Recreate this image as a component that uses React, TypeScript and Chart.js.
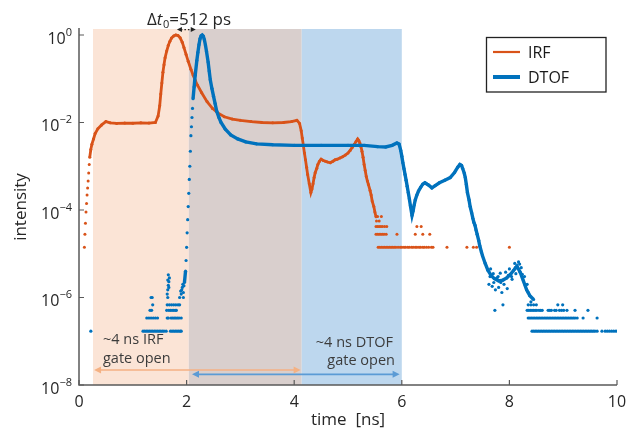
import React, { useEffect, useRef } from 'react';
import { Chart, registerables } from 'chart.js';

Chart.register(...registerables);

const FONT = '"Open Sans", "DejaVu Sans", sans-serif';
const ORANGE = '#D95319';
const BLUE = '#0072BD';

// ---- axes ----
const xTicks = [0, 2, 4, 6, 8, 10];
const yTickValues = [1, 1e-2, 1e-4, 1e-6, 1e-8];
const yTickExponents = ['0', '\u22122', '\u22124', '\u22126', '\u22128'];
const xRange = [0, 10];
const yRange = [1e-8, 1.37];

// ---- gates / annotations (data units) ----
const irfGate = [0.26, 4.14];
const dtofGate = [2.04, 6.0];
const irfArrow = [0.28, 4.12, 2.2e-8];
const dtofArrow = [2.1, 5.96, 1.75e-8];
const deltaArrow = [1.82, 2.17, 1.33];
const seriesNames = ['IRF', 'DTOF'];

// ---- IRF main curve ----
const irfX = [0.11, 0.12, 0.13, 0.14, 0.15, 0.16, 0.17, 0.18, 0.19, 0.20, 0.22, 0.24, 0.27, 0.30, 0.35, 0.42, 0.50, 0.58, 0.70, 0.85, 1.00, 1.15, 1.30, 1.42, 1.47, 1.50, 1.52, 1.54, 1.56, 1.58, 1.60, 1.63, 1.66, 1.69, 1.72, 1.76, 1.80, 1.84, 1.88, 1.92, 1.95, 1.99, 2.03, 2.08, 2.12, 2.16, 2.20, 2.28, 2.38, 2.48, 2.58, 2.70, 2.85, 3.00, 3.20, 3.40, 3.60, 3.80, 3.95, 4.05, 4.10, 4.13, 4.15, 4.17, 4.19, 4.21, 4.23, 4.25, 4.28, 4.31, 4.33, 4.35, 4.37, 4.39, 4.42, 4.44, 4.47, 4.50, 4.54, 4.58, 4.62, 4.67, 4.72, 4.76, 4.80, 4.85, 4.90, 4.95, 5.00, 5.04, 5.08, 5.12, 5.15, 5.18, 5.20, 5.22, 5.24, 5.26, 5.28, 5.30, 5.32, 5.34, 5.36, 5.38, 5.41, 5.43, 5.45, 5.48, 5.50, 5.52];
const irfY = [2.8e-5, 5.0e-5, 9.0e-5, 1.4e-4, 2.2e-4, 3.2e-4, 4.6e-4, 7.0e-4, 1.1e-3, 1.6e-3, 2.4e-3, 3.2e-3, 4.2e-3, 5.6e-3, 7.2e-3, 8.8e-3, 1.05e-2, 9.8e-3, 9.5e-3, 9.7e-3, 9.6e-3, 9.8e-3, 9.7e-3, 1.0e-2, 1.4e-2, 2.4e-2, 4.5e-2, 8.0e-2, 1.4e-1, 2.1e-1, 3.0e-1, 4.3e-1, 5.8e-1, 7.2e-1, 8.5e-1, 9.5e-1, 1.0, 9.7e-1, 8.6e-1, 6.8e-1, 5.2e-1, 3.6e-1, 2.5e-1, 1.65e-1, 1.22e-1, 9.2e-2, 7.2e-2, 4.8e-2, 3.0e-2, 2.1e-2, 1.65e-2, 1.35e-2, 1.2e-2, 1.12e-2, 1.05e-2, 1.0e-2, 9.8e-3, 1.0e-2, 1.05e-2, 1.12e-2, 9.5e-3, 6.5e-3, 4.4e-3, 3.0e-3, 2.0e-3, 1.4e-3, 9.5e-4, 6.5e-4, 4.0e-4, 2.5e-4, 3.0e-4, 4.0e-4, 5.5e-4, 7.1e-4, 9.0e-4, 1.1e-3, 1.3e-3, 1.45e-3, 1.35e-3, 1.3e-3, 1.25e-3, 1.2e-3, 1.3e-3, 1.4e-3, 1.45e-3, 1.55e-3, 1.65e-3, 1.8e-3, 2.0e-3, 2.3e-3, 2.7e-3, 3.2e-3, 3.7e-3, 4.2e-3, 3.9e-3, 3.4e-3, 2.8e-3, 2.2e-3, 1.6e-3, 1.1e-3, 8.0e-4, 5.8e-4, 4.6e-4, 3.8e-4, 2.8e-4, 2.2e-4, 1.6e-4, 1.2e-4, 9.0e-5, 7.0e-5];

// ---- IRF low-count points ----
const irfCountX = [0.10, 5.55, 5.62, 5.53, 5.58, 5.52, 5.55, 5.58, 5.61, 5.64, 5.68, 5.72, 6.28, 6.36, 5.52, 5.55, 5.58, 5.61, 5.64, 5.67, 5.71, 5.91, 6.25, 6.39, 6.52, 5.56, 5.59, 5.62, 5.65, 5.68, 5.71, 5.74, 5.77, 5.80, 5.83, 5.86, 5.89, 5.93, 5.97, 6.00, 6.04, 6.07, 6.11, 6.14, 6.18, 6.21, 6.25, 6.28, 6.32, 6.35, 6.39, 6.42, 6.46, 6.50, 6.55, 6.58, 6.84, 7.21, 7.33, 7.39, 8.00];
const irfCountY = [1.4e-5, 7.1e-5, 7.1e-5, 5.6e-5, 5.6e-5, 4.2e-5, 4.2e-5, 4.2e-5, 4.2e-5, 4.2e-5, 4.2e-5, 4.2e-5, 4.2e-5, 4.2e-5, 2.8e-5, 2.8e-5, 2.8e-5, 2.8e-5, 2.8e-5, 2.8e-5, 2.8e-5, 2.8e-5, 2.8e-5, 2.8e-5, 2.8e-5, 1.4e-5, 1.4e-5, 1.4e-5, 1.4e-5, 1.4e-5, 1.4e-5, 1.4e-5, 1.4e-5, 1.4e-5, 1.4e-5, 1.4e-5, 1.4e-5, 1.4e-5, 1.4e-5, 1.4e-5, 1.4e-5, 1.4e-5, 1.4e-5, 1.4e-5, 1.4e-5, 1.4e-5, 1.4e-5, 1.4e-5, 1.4e-5, 1.4e-5, 1.4e-5, 1.4e-5, 1.4e-5, 1.4e-5, 1.4e-5, 1.4e-5, 1.4e-5, 1.4e-5, 1.4e-5, 1.4e-5, 1.4e-5];

// ---- DTOF main curve ----
const dtofX = [1.96, 1.98, 1.99, 2.00, 2.01, 2.02, 2.03, 2.04, 2.05, 2.06, 2.07, 2.08, 2.09, 2.10, 2.11, 2.12, 2.14, 2.16, 2.19, 2.21, 2.23, 2.25, 2.27, 2.29, 2.31, 2.33, 2.35, 2.37, 2.40, 2.42, 2.44, 2.47, 2.50, 2.53, 2.56, 2.60, 2.64, 2.72, 2.82, 2.95, 3.10, 3.30, 3.60, 4.00, 4.50, 5.00, 5.30, 5.55, 5.70, 5.82, 5.91, 5.95, 5.98, 6.00, 6.02, 6.04, 6.06, 6.08, 6.10, 6.12, 6.14, 6.16, 6.19, 6.21, 6.23, 6.25, 6.28, 6.31, 6.35, 6.39, 6.43, 6.47, 6.50, 6.56, 6.62, 6.70, 6.80, 6.90, 6.98, 7.04, 7.08, 7.11, 7.13, 7.16, 7.18, 7.20, 7.22, 7.25, 7.27, 7.30, 7.32, 7.34, 7.36, 7.38, 7.40, 7.43, 7.45, 7.48, 7.50, 7.55, 7.60, 7.66, 7.72, 7.80, 7.88, 7.95, 8.02, 8.08, 8.14, 8.20, 8.26, 8.32, 8.38, 8.45];
const dtofY = [2.2e-6, 4.0e-6, 7.0e-6, 1.4e-5, 3.0e-5, 6.0e-5, 1.2e-4, 2.4e-4, 5.0e-4, 1.0e-3, 2.2e-3, 5.0e-3, 8.0e-3, 1.3e-2, 2.1e-2, 3.5e-2, 6.5e-2, 1.2e-1, 2.6e-1, 4.0e-1, 6.0e-1, 8.2e-1, 9.6e-1, 1.0, 9.4e-1, 7.8e-1, 5.9e-1, 4.2e-1, 2.4e-1, 1.5e-1, 9.5e-2, 6.0e-2, 4.0e-2, 2.7e-2, 1.8e-2, 1.3e-2, 1.0e-2, 7.0e-3, 5.2e-3, 4.2e-3, 3.6e-3, 3.25e-3, 3.1e-3, 3.0e-3, 3.0e-3, 3.0e-3, 3.0e-3, 2.8e-3, 2.75e-3, 3.0e-3, 3.4e-3, 3.2e-3, 2.3e-3, 1.7e-3, 1.2e-3, 8.8e-4, 6.5e-4, 4.8e-4, 3.5e-4, 2.5e-4, 1.8e-4, 1.25e-4, 7.5e-5, 9.5e-5, 1.3e-4, 1.7e-4, 2.2e-4, 2.7e-4, 3.3e-4, 3.9e-4, 4.2e-4, 3.9e-4, 3.7e-4, 3.2e-4, 3.6e-4, 4.2e-4, 4.8e-4, 5.5e-4, 7.2e-4, 9.5e-4, 1.1e-3, 1.05e-3, 9.0e-4, 7.0e-4, 5.5e-4, 3.8e-4, 2.5e-4, 1.7e-4, 1.2e-4, 8.5e-5, 6.5e-5, 5.2e-5, 4.5e-5, 3.5e-5, 2.8e-5, 2.0e-5, 1.5e-5, 1.1e-5, 9.0e-6, 6.0e-6, 4.2e-6, 3.2e-6, 2.7e-6, 2.4e-6, 2.5e-6, 2.8e-6, 3.4e-6, 4.2e-6, 5.2e-6, 3.8e-6, 2.4e-6, 1.5e-6, 1.1e-6, 9.0e-7];

// ---- DTOF low-count / noisy points ----
const dtofCountX = [
  0.22, 1.19, 1.22, 1.25, 1.28, 1.31, 1.34, 1.37, 1.40, 1.43, 1.46, 1.49, 1.52, 1.55, 1.58, 1.62, 1.70, 1.73, 1.76, 1.79, 1.82, 1.85, 1.88, 1.90,
  1.26, 1.30, 1.34, 1.38, 1.42, 1.46, 1.64, 1.66, 1.71, 1.74, 1.77, 1.80, 1.83, 1.86, 1.90,
  1.32, 1.35, 1.63, 1.67, 1.70, 1.73, 1.76, 1.79, 1.81,
  1.37, 1.64, 1.68, 1.72, 1.76, 1.80, 1.84, 1.87,
  1.34, 1.36, 1.65, 1.87, 1.94,
  1.64, 1.65, 1.66, 1.67, 1.68, 1.66, 1.65, 1.67, 1.90, 1.91, 1.92, 1.93, 1.89, 1.95, 1.94,
  7.62, 7.65, 7.68, 7.70, 7.74, 7.77, 7.80, 7.83, 7.86, 7.90, 7.93, 7.96, 8.00, 8.05, 8.10, 8.12, 8.17, 8.22, 8.28, 8.30, 8.35, 8.40, 7.73, 7.88, 7.64, 7.71, 7.79, 7.84, 7.98, 8.04, 8.11, 8.19, 8.24, 8.33,
  8.42, 8.45, 8.48, 8.51, 8.54, 8.57, 8.60, 8.63, 8.66, 8.69, 8.72, 8.75, 8.78, 8.81, 8.84, 8.87, 8.90, 8.93, 8.96, 8.99, 9.02, 9.05, 9.08, 9.11, 9.14, 9.17, 9.20, 9.23, 9.26, 9.29, 9.32, 9.35, 9.38, 9.41, 9.44, 9.47, 9.50, 9.53, 9.56, 9.59, 9.63, 9.72, 9.78, 9.82, 9.86, 9.90, 9.94, 9.98,
  8.35, 8.38, 8.41, 8.44, 8.47, 8.50, 8.53, 8.56, 8.59, 8.62, 8.65, 8.68, 8.71, 8.74, 8.77, 8.80, 8.83, 8.86, 8.89, 8.92, 8.95, 8.98, 9.01, 9.04, 9.07, 9.10, 9.13, 9.16, 9.19, 9.22, 9.26, 9.37, 9.63,
  8.33, 8.36, 8.39, 8.42, 8.45, 8.48, 8.51, 8.55, 8.58, 8.61, 8.72, 8.75, 8.78, 8.84, 8.87, 8.93, 8.97, 9.01, 9.07, 9.22, 9.46,
  8.35, 8.40, 8.45, 8.50, 8.90, 8.99
];
const dtofCountY = [
  1.7e-7, 1.7e-7, 1.7e-7, 1.7e-7, 1.7e-7, 1.7e-7, 1.7e-7, 1.7e-7, 1.7e-7, 1.7e-7, 1.7e-7, 1.7e-7, 1.7e-7, 1.7e-7, 1.7e-7, 1.7e-7, 1.7e-7, 1.7e-7, 1.7e-7, 1.7e-7, 1.7e-7, 1.7e-7, 1.7e-7, 1.7e-7,
  3.4e-7, 3.4e-7, 3.4e-7, 3.4e-7, 3.4e-7, 3.4e-7, 3.4e-7, 3.4e-7, 3.4e-7, 3.4e-7, 3.4e-7, 3.4e-7, 3.4e-7, 3.4e-7, 3.4e-7,
  5.1e-7, 5.1e-7, 5.1e-7, 5.1e-7, 5.1e-7, 5.1e-7, 5.1e-7, 5.1e-7, 5.1e-7,
  6.8e-7, 6.8e-7, 6.8e-7, 6.8e-7, 6.8e-7, 6.8e-7, 6.8e-7, 6.8e-7,
  1.0e-6, 1.0e-6, 1.0e-6, 1.0e-6, 1.0e-6,
  1.2e-6, 1.5e-6, 1.9e-6, 2.3e-6, 2.8e-6, 3.3e-6, 2.5e-6, 1.7e-6, 1.2e-6, 1.5e-6, 1.7e-6, 2.0e-6, 1.4e-6, 1.85e-6, 1.3e-6,
  2.0e-6, 4.5e-6, 1.8e-6, 3.5e-6, 1.5e-6, 2.8e-6, 1.7e-6, 3.6e-6, 1.3e-6, 2.0e-6, 3.8e-6, 1.6e-6, 4.5e-6, 2.6e-6, 6.0e-6, 3.5e-6, 6.5e-6, 4.8e-6, 3.0e-6, 1.9e-6, 1.3e-6, 8.0e-7, 5.1e-7, 6.8e-7, 3.0e-6, 2.2e-6, 3.0e-6, 2.2e-6, 3.2e-6, 3.0e-6, 4.8e-6, 5.8e-6, 3.4e-6, 2.0e-6,
  1.7e-7, 1.7e-7, 1.7e-7, 1.7e-7, 1.7e-7, 1.7e-7, 1.7e-7, 1.7e-7, 1.7e-7, 1.7e-7, 1.7e-7, 1.7e-7, 1.7e-7, 1.7e-7, 1.7e-7, 1.7e-7, 1.7e-7, 1.7e-7, 1.7e-7, 1.7e-7, 1.7e-7, 1.7e-7, 1.7e-7, 1.7e-7, 1.7e-7, 1.7e-7, 1.7e-7, 1.7e-7, 1.7e-7, 1.7e-7, 1.7e-7, 1.7e-7, 1.7e-7, 1.7e-7, 1.7e-7, 1.7e-7, 1.7e-7, 1.7e-7, 1.7e-7, 1.7e-7, 1.7e-7, 1.7e-7, 1.7e-7, 1.7e-7, 1.7e-7, 1.7e-7, 1.7e-7, 1.7e-7,
  3.4e-7, 3.4e-7, 3.4e-7, 3.4e-7, 3.4e-7, 3.4e-7, 3.4e-7, 3.4e-7, 3.4e-7, 3.4e-7, 3.4e-7, 3.4e-7, 3.4e-7, 3.4e-7, 3.4e-7, 3.4e-7, 3.4e-7, 3.4e-7, 3.4e-7, 3.4e-7, 3.4e-7, 3.4e-7, 3.4e-7, 3.4e-7, 3.4e-7, 3.4e-7, 3.4e-7, 3.4e-7, 3.4e-7, 3.4e-7, 3.4e-7, 3.4e-7, 3.4e-7,
  5.1e-7, 5.1e-7, 5.1e-7, 5.1e-7, 5.1e-7, 5.1e-7, 5.1e-7, 5.1e-7, 5.1e-7, 5.1e-7, 5.1e-7, 5.1e-7, 5.1e-7, 5.1e-7, 5.1e-7, 5.1e-7, 5.1e-7, 5.1e-7, 5.1e-7, 5.1e-7, 5.1e-7,
  6.8e-7, 6.8e-7, 6.8e-7, 6.8e-7, 6.8e-7, 6.8e-7
];

const toPoints = (xs: number[], ys: number[]) => xs.map((v, i) => ({ x: v, y: ys[i] }));

// steep sample-to-sample jumps show as separate dots (like marker-only plotting)
const hideSteepSegments = (color: string) => ({
  borderColor: (c: any) => {
    const dx = Math.abs(c.p1.x - c.p0.x);
    const dy = Math.abs(c.p1.y - c.p0.y);
    return dy > 4 && dy / Math.max(dx, 0.1) > 12 ? 'rgba(0,0,0,0)' : color;
  },
});

function drawArrow(ctx: CanvasRenderingContext2D, xa: number, xb: number, y: number, color: string, head: number, width: number, dashed: boolean) {
  ctx.save();
  ctx.strokeStyle = color;
  ctx.fillStyle = color;
  ctx.lineWidth = width;
  if (dashed) ctx.setLineDash([1.5, 2]);
  ctx.beginPath();
  ctx.moveTo(xa + head * 0.8, y);
  ctx.lineTo(xb - head * 0.8, y);
  ctx.stroke();
  ctx.setLineDash([]);
  const hw = head * 0.5;
  ctx.beginPath();
  ctx.moveTo(xa, y);
  ctx.lineTo(xa + head, y - hw);
  ctx.lineTo(xa + head, y + hw);
  ctx.closePath();
  ctx.fill();
  ctx.beginPath();
  ctx.moveTo(xb, y);
  ctx.lineTo(xb - head, y - hw);
  ctx.lineTo(xb - head, y + hw);
  ctx.closePath();
  ctx.fill();
  ctx.restore();
}

const decor = {
  id: 'decor',
  beforeDatasetsDraw(chart: any) {
    const { ctx, chartArea, scales } = chart;
    const { top, bottom } = chartArea;
    const x = scales.x;
    const a = x.getPixelForValue(irfGate[0]);
    const b = x.getPixelForValue(dtofGate[0]);
    const c = x.getPixelForValue(irfGate[1]);
    const d = x.getPixelForValue(dtofGate[1]);
    ctx.save();
    ctx.fillStyle = '#FBE4D6';
    ctx.fillRect(a, top, b - a, bottom - top);
    ctx.fillStyle = '#D9CFCD';
    ctx.fillRect(b, top, c - b, bottom - top);
    ctx.fillStyle = '#BDD7EE';
    ctx.fillRect(c, top, d - c, bottom - top);
    ctx.restore();
  },
  afterDraw(chart: any) {
    const { ctx, chartArea, scales } = chart;
    const { left, right, top, bottom } = chartArea;
    const x = scales.x;
    const y = scales.y;
    ctx.save();

    // gate arrows
    drawArrow(ctx, x.getPixelForValue(irfArrow[0]), x.getPixelForValue(irfArrow[1]), y.getPixelForValue(irfArrow[2]), '#F4B183', 7, 1.6, false);
    drawArrow(ctx, x.getPixelForValue(dtofArrow[0]), x.getPixelForValue(dtofArrow[1]), y.getPixelForValue(dtofArrow[2]), '#5B9BD5', 7, 1.6, false);
    drawArrow(ctx, x.getPixelForValue(deltaArrow[0]), x.getPixelForValue(deltaArrow[1]), y.getPixelForValue(deltaArrow[2]), '#222', 5, 1.2, true);

    // axes
    ctx.strokeStyle = '#5a5a5a';
    ctx.lineWidth = 1.5;
    ctx.beginPath();
    ctx.moveTo(left, top - 1);
    ctx.lineTo(left, bottom);
    ctx.lineTo(right, bottom);
    ctx.stroke();
    ctx.lineWidth = 1.2;
    ctx.beginPath();
    xTicks.forEach((v) => {
      const px = x.getPixelForValue(v);
      ctx.moveTo(px, bottom);
      ctx.lineTo(px, bottom - 5);
    });
    yTickValues.forEach((v) => {
      const py = y.getPixelForValue(v);
      ctx.moveTo(left, py);
      ctx.lineTo(left + 5, py);
    });
    ctx.stroke();

    // tick labels
    ctx.fillStyle = '#262626';
    ctx.textBaseline = 'alphabetic';
    ctx.font = `16px ${FONT}`;
    ctx.textAlign = 'center';
    xTicks.forEach((v) => {
      ctx.fillText(String(v), x.getPixelForValue(v), bottom + 22);
    });
    yTickValues.forEach((v, i) => {
      const py = y.getPixelForValue(v);
      ctx.font = `11px ${FONT}`;
      const ew = ctx.measureText(yTickExponents[i]).width;
      ctx.font = `16px ${FONT}`;
      const bw = ctx.measureText('10').width;
      const rx = left - 7;
      ctx.textAlign = 'left';
      ctx.fillText('10', rx - ew - bw, py + 9);
      ctx.font = `11px ${FONT}`;
      ctx.fillText(yTickExponents[i], rx - ew, py + 1);
    });

    // axis titles
    ctx.font = `17px ${FONT}`;
    ctx.textAlign = 'center';
    ctx.fillText('time  [ns]', (left + right) / 2, bottom + 40);
    ctx.save();
    ctx.translate(26, (top + bottom) / 2);
    ctx.rotate(-Math.PI / 2);
    ctx.fillText('intensity', 0, 0);
    ctx.restore();

    // delta t label
    ctx.textAlign = 'left';
    let tx = 147;
    const ty = 25;
    ctx.font = `17px ${FONT}`;
    ctx.fillText('\u0394', tx, ty);
    tx += ctx.measureText('\u0394').width;
    ctx.font = `italic 17px ${FONT}`;
    ctx.fillText('t', tx, ty);
    tx += ctx.measureText('t').width + 0.5;
    ctx.font = `11px ${FONT}`;
    ctx.fillText('0', tx, ty + 3);
    tx += ctx.measureText('0').width;
    ctx.font = `17px ${FONT}`;
    ctx.fillText('=512 ps', tx, ty);

    // gate annotations
    ctx.fillStyle = '#3c3c3c';
    ctx.font = `14.5px ${FONT}`;
    ctx.textAlign = 'left';
    ctx.fillText('~4 ns IRF', 103, 344);
    ctx.fillText('gate open', 103, 363);
    ctx.textAlign = 'right';
    ctx.fillText('~4 ns DTOF', 393, 347);
    ctx.fillText('gate open', 395, 365);

    // legend
    const lx = 486.5, ly = 37.5, lw = 119.5, lh = 54.5;
    ctx.fillStyle = '#ffffff';
    ctx.fillRect(lx, ly, lw, lh);
    ctx.strokeStyle = '#222';
    ctx.lineWidth = 1.3;
    ctx.strokeRect(lx, ly, lw, lh);
    const rows = [
      { name: seriesNames[0], color: ORANGE, w: 2.2, yy: 52 },
      { name: seriesNames[1], color: BLUE, w: 4, yy: 77 },
    ];
    ctx.font = `16px ${FONT}`;
    ctx.textAlign = 'left';
    ctx.textBaseline = 'middle';
    rows.forEach((r) => {
      ctx.strokeStyle = r.color;
      ctx.lineWidth = r.w;
      ctx.beginPath();
      ctx.moveTo(493, r.yy);
      ctx.lineTo(520, r.yy);
      ctx.stroke();
      ctx.fillStyle = '#1a1a1a';
      ctx.fillText(r.name, 528, r.yy + 1);
    });

    ctx.restore();
  },
};

export default function App() {
  const ref = useRef<HTMLCanvasElement | null>(null);
  useEffect(() => {
    if (!ref.current) return;
    const chart = new Chart(ref.current, {
      type: 'scatter',
      data: {
        datasets: [
          {
            label: seriesNames[0],
            data: toPoints(irfX, irfY),
            showLine: true,
            borderColor: ORANGE,
            backgroundColor: ORANGE,
            borderWidth: 2.8,
            pointRadius: 1.5,
            pointBorderWidth: 0,
            segment: hideSteepSegments(ORANGE),
            order: 2,
          },
          {
            label: 'IRF counts',
            data: toPoints(irfCountX, irfCountY),
            showLine: false,
            backgroundColor: ORANGE,
            borderColor: ORANGE,
            pointRadius: 1.5,
            pointBorderWidth: 0,
            order: 2,
          },
          {
            label: seriesNames[1],
            data: toPoints(dtofX, dtofY),
            showLine: true,
            borderColor: BLUE,
            backgroundColor: BLUE,
            borderWidth: 3.4,
            pointRadius: 1.6,
            pointBorderWidth: 0,
            segment: hideSteepSegments(BLUE),
            order: 1,
          },
          {
            label: 'DTOF counts',
            data: toPoints(dtofCountX, dtofCountY),
            showLine: false,
            backgroundColor: BLUE,
            borderColor: BLUE,
            pointRadius: 1.6,
            pointBorderWidth: 0,
            order: 1,
          },
        ],
      },
      options: {
        responsive: false,
        animation: false,
        events: [],
        layout: { padding: { left: 79, right: 11, top: 29, bottom: 46 } },
        plugins: {
          legend: { display: false },
          tooltip: { enabled: false },
        },
        scales: {
          x: { type: 'linear', min: xRange[0], max: xRange[1], display: false },
          y: { type: 'logarithmic', min: yRange[0], max: yRange[1], display: false },
        },
      },
      plugins: [decor],
    } as any);
    return () => chart.destroy();
  }, []);
  return (
    <div style={{ position: 'fixed', left: 0, top: 0, width: 628, height: 431, background: '#fff' }}>
      <canvas ref={ref} width={628} height={431} style={{ display: 'block' }} />
    </div>
  );
}
